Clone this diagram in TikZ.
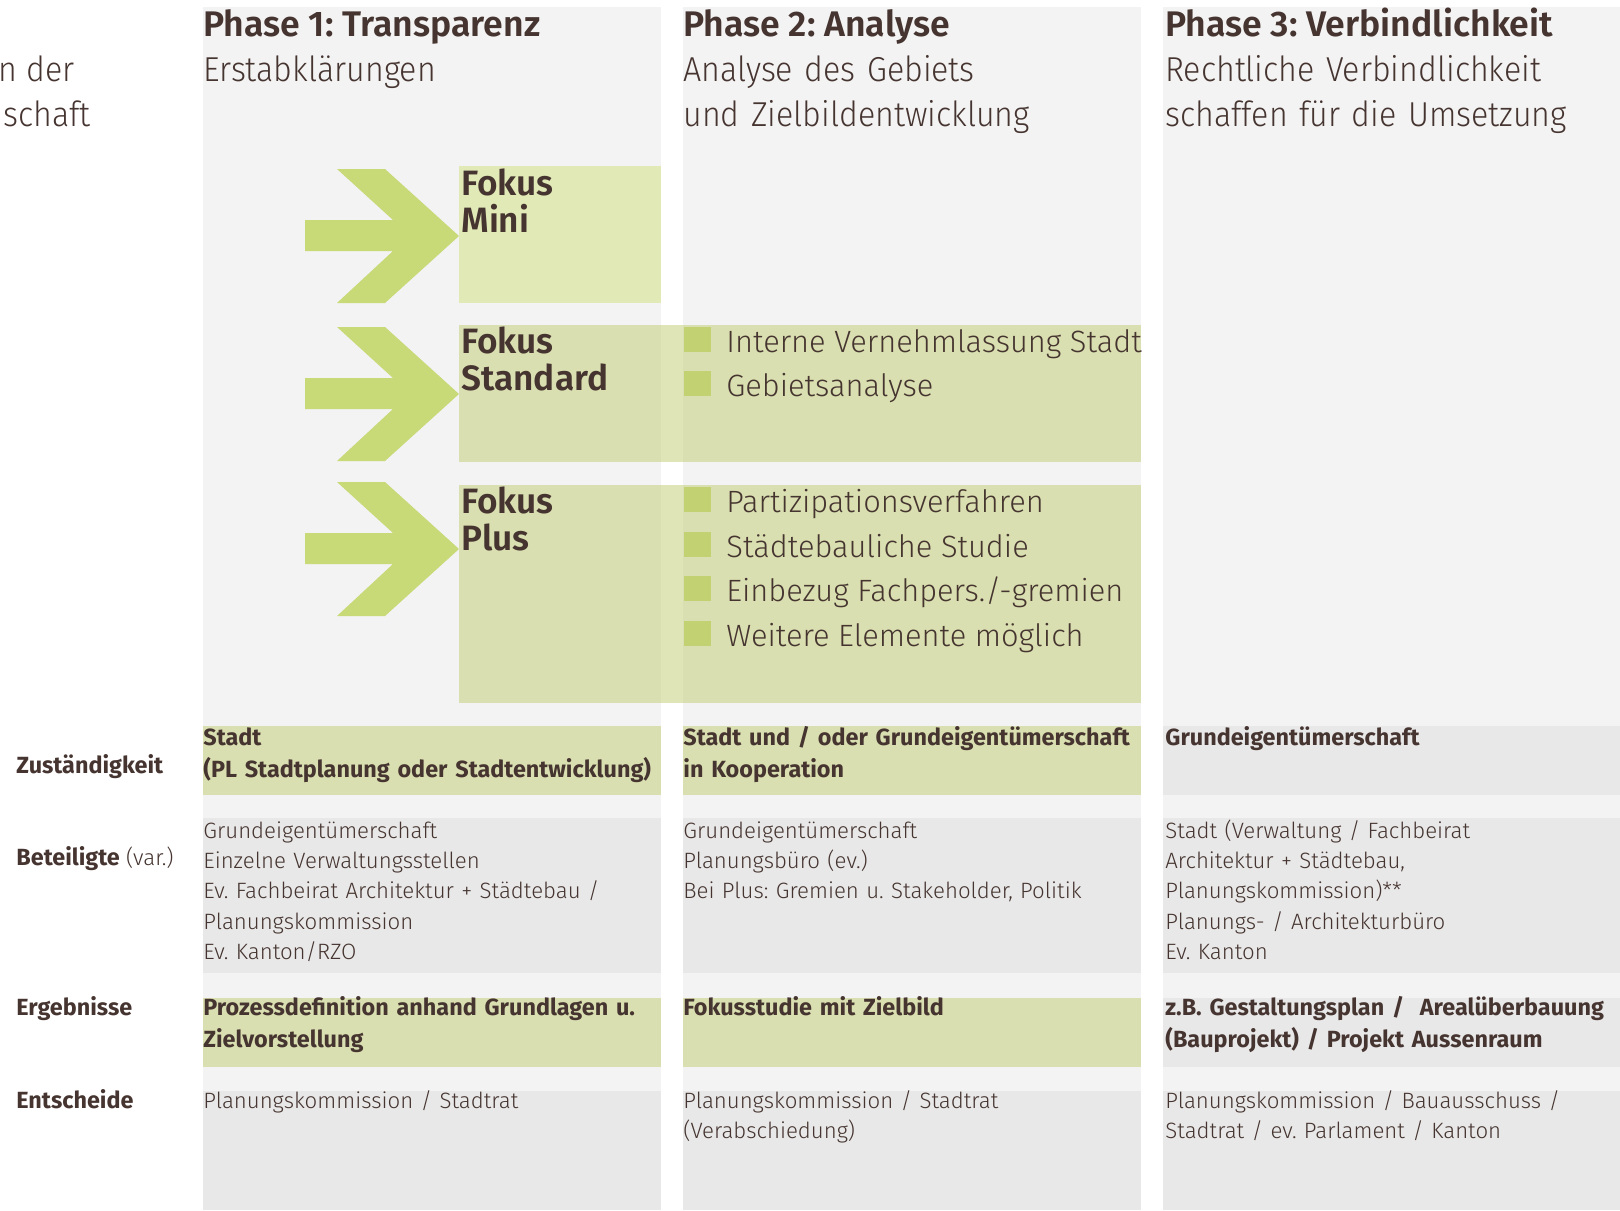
\documentclass[tikz,border=0pt]{standalone}
\usepackage{fontspec}
\IfFontExistsTF{Fira Sans Light}
  {\setmainfont{Fira Sans}[UprightFont={* Light},BoldFont={* SemiBold}]
   \newfontfamily\heavyfont{Fira Sans Bold}
   \newfontfamily\subfont{Fira Sans Light}[FakeStretch=0.93]}
  {\setmainfont{Fira Sans}
   \newfontfamily\heavyfont{Fira Sans}[UprightFont={* Bold}]
   \newfontfamily\subfont{Fira Sans}[FakeStretch=0.93]}

\definecolor{txt}{HTML}{45342F}
\definecolor{colbg}{HTML}{F3F3F3}
\definecolor{rowgray}{HTML}{E8E8E8}
\definecolor{rowgreen}{HTML}{D9DFB0}
\definecolor{minigreen}{HTML}{E1E9B6}
\definecolor{boxgreen}{HTML}{C0CC6E}
\definecolor{arrowgreen}{HTML}{C8D978}
\definecolor{bulletgreen}{HTML}{C2D272}

\tikzset{
  title/.style={anchor=base west, inner sep=0pt, text=txt, font=\bfseries\fontsize{17.8}{22.5}\selectfont},
  subtitle/.style={anchor=base west, inner sep=0pt, text=txt, text width=300pt, align=left, font=\subfont\fontsize{17.3}{22.5}\selectfont},
  fokus/.style={anchor=base west, inner sep=0pt, text=txt, text width=90pt, align=left, font=\bfseries\fontsize{17.6}{18.5}\selectfont},
  item/.style={anchor=base west, inner sep=0pt, text=txt, font=\fontsize{15.4}{22}\selectfont},
  cell/.style={anchor=base west, inner sep=0pt, text=txt, text width=228pt, align=left, font=\fontsize{11.1}{15.2}\selectfont},
  boldcell/.style={cell, font=\heavyfont\fontsize{11.7}{16}\selectfont},
  rowlabel/.style={anchor=base west, inner sep=0pt, text=txt, font=\fontsize{11.1}{15.2}\selectfont}
}

\begin{document}
\frenchspacing
\begin{tikzpicture}[x=0.5pt,y=-0.5pt]
	\useasboundingbox (0,0) rectangle (1620,1210);
	\clip (0,0) rectangle (1620,1210);

	% phase columns
	\fill[colbg] (203,7) rectangle (661,1210);
	\fill[colbg] (683,7) rectangle (1141,1210);
	\fill[colbg] (1163,7) rectangle (1620,1210);

	% table rows
	\fill[rowgreen] (203,726) rectangle (661,795);
	\fill[rowgreen] (683,726) rectangle (1141,795);
	\fill[rowgray] (1163,726) rectangle (1620,795);
	\fill[rowgray] (203,818) rectangle (661,973);
	\fill[rowgray] (683,818) rectangle (1141,973);
	\fill[rowgray] (1163,818) rectangle (1620,973);
	\fill[rowgreen] (203,998) rectangle (661,1067);
	\fill[rowgreen] (683,998) rectangle (1141,1067);
	\fill[rowgray] (1163,998) rectangle (1620,1067);
	\fill[rowgray] (203,1091) rectangle (661,1210);
	\fill[rowgray] (683,1091) rectangle (1141,1210);
	\fill[rowgray] (1163,1091) rectangle (1620,1210);

	% fokus boxes
	\fill[minigreen] (459,166) rectangle (661,303);
	\fill[boxgreen, fill opacity=0.5] (459,325) rectangle (1141,462);
	\fill[boxgreen, fill opacity=0.5] (459,485) rectangle (1141,703);

	% arrows
	\foreach \y in {236,394,549}
		\fill[arrowgreen] (305,\y-16) -- (393,\y-16) -- (337,\y-67) -- (385,\y-67) -- (459,\y)
			-- (385,\y+67) -- (337,\y+67) -- (393,\y+15) -- (305,\y+15) -- cycle;

	% bullets
	\foreach \b in {352,396,512,557,601,646}
		\fill[bulletgreen] (684,\b-25) rectangle (711,\b);

	% header
	\node[subtitle, anchor=base east, text width=, align=right] (L1) at (75,81) {n der};
	\node[subtitle, anchor=base east, text width=, align=right] (L2) at (91,126) {schaft};
	\node[title] (P1) at (203,36) {Phase 1: Transparenz};
	\node[title] (P2) at (683,36) {Phase 2: Analyse};
	\node[title] (P3) at (1165,36) {Phase 3: Verbindlichkeit};
	\node[subtitle] (S1) at (203,81) {Erstabklärungen};
	\node[subtitle] (S2) at (683,81) {Analyse des Gebiets\\und Zielbildentwicklung};
	\node[subtitle] (S3) at (1165,81) {Rechtliche Verbindlichkeit\\schaffen für die Umsetzung};

	% fokus labels and items
	\node[fokus] (F1) at (461,195) {Fokus\\Mini};
	\node[fokus] (F2) at (461,353) {Fokus\\Standard};
	\node[fokus] (F3) at (461,513) {Fokus\\Plus};
	\node[item] (I1) at (726,352) {Interne Vernehmlassung Stadt};
	\node[item] (I2) at (726,396) {Gebietsanalyse};
	\node[item] (I3) at (726,512) {Partizipationsverfahren};
	\node[item] (I4) at (726,557) {Städtebauliche Studie};
	\node[item] (I5) at (726,601) {Einbezug Fachpers./-gremien};
	\node[item] (I6) at (726,646) {Weitere Elemente möglich};

	% row labels
	\node[rowlabel] (R1) at (16,773) {{\heavyfont\fontsize{11.7}{15.2}\selectfont Zuständigkeit}};
	\node[rowlabel] (R2) at (16,865) {{\heavyfont\fontsize{11.7}{15.2}\selectfont Beteiligte} (var.)};
	\node[rowlabel] (R3) at (16,1015) {{\heavyfont\fontsize{11.7}{15.2}\selectfont Ergebnisse}};
	\node[rowlabel] (R4) at (16,1108) {{\heavyfont\fontsize{11.7}{15.2}\selectfont Entscheide}};

	% Zuständigkeit
	\node[boldcell] (Z1) at (203,745) {Stadt\\(PL Stadtplanung oder Stadtentwicklung)};
	\node[boldcell] (Z2) at (683,745) {Stadt und / oder Grundeigentümerschaft\\in Kooperation};
	\node[boldcell] (Z3) at (1165,745) {Grundeigentümerschaft};

	% Beteiligte
	\node[cell] (B1) at (203,838) {Grundeigentümerschaft\\Einzelne Verwaltungsstellen\\Ev. Fachbeirat Architektur + Städtebau /\\Planungskommission\\Ev. Kanton/RZO};
	\node[cell] (B2) at (683,838) {Grundeigentümerschaft\\Planungsbüro (ev.)\\Bei Plus: Gremien u. Stakeholder, Politik};
	\node[cell] (B3) at (1165,838) {Stadt (Verwaltung / Fachbeirat\\Architektur + Städtebau,\\Planungskommission)**\\Planungs- / Architekturbüro\\Ev. Kanton};

	% Ergebnisse
	\node[boldcell] (E1) at (203,1015) {Prozessdefinition anhand Grundlagen u.\\Zielvorstellung};
	\node[boldcell] (E2) at (683,1015) {Fokusstudie mit Zielbild};
	\node[boldcell] (E3) at (1165,1015) {z.B. Gestaltungsplan /\ \ Arealüberbauung\\(Bauprojekt) / Projekt Aussenraum};

	% Entscheide
	\node[cell] (D1) at (203,1108) {Planungskommission / Stadtrat};
	\node[cell] (D2) at (683,1108) {Planungskommission / Stadtrat\\(Verabschiedung)};
	\node[cell] (D3) at (1165,1108) {Planungskommission / Bauausschuss /\\Stadtrat / ev. Parlament / Kanton};
\end{tikzpicture}
\end{document}
